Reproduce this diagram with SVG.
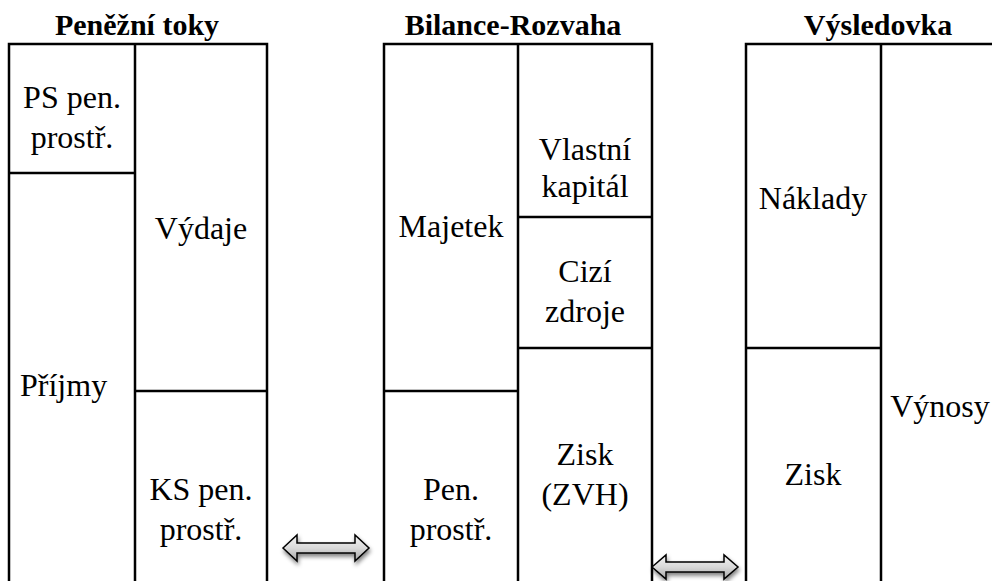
<svg xmlns="http://www.w3.org/2000/svg" width="992" height="581" viewBox="0 0 992 581" font-family="Liberation Serif, Times New Roman, serif">
  <defs>
    <linearGradient id="arrowFill" x1="0" y1="0" x2="0" y2="1">
      <stop offset="0" stop-color="#f4f4f4"/>
      <stop offset="0.5" stop-color="#d9d9d9"/>
      <stop offset="1" stop-color="#a6a6a6"/>
    </linearGradient>
    <filter id="shadow" x="-20%" y="-40%" width="140%" height="200%">
      <feGaussianBlur in="SourceAlpha" stdDeviation="2"/>
      <feOffset dx="1" dy="2.5" result="blur"/>
      <feComponentTransfer><feFuncA type="linear" slope="0.5"/></feComponentTransfer>
      <feMerge><feMergeNode/><feMergeNode in="SourceGraphic"/></feMerge>
    </filter>
  </defs>
  <style>
    .frame { fill: none; stroke: #000; stroke-width: 2.5; }
    .title { font-weight: bold; font-size: 30px; text-anchor: middle; fill: #000; }
    .lbl { font-size: 32px; text-anchor: middle; fill: #000; }
    .lbl.left { text-anchor: start; }
    .arrow { fill: url(#arrowFill); stroke: #000; stroke-width: 1.5; stroke-linejoin: miter; filter: url(#shadow); }
  </style>

  <!-- Cash flow statement -->
  <g id="penezni-toky" font-family="Liberation Serif, serif">
    <text class="title" x="137" y="35">Peněžní toky</text>
    <path class="frame" d="M9,581 V44 H267 V581 M135,44 V581 M9,173 H135 M135,391 H267"/>
    <text class="lbl" x="72" y="108">PS pen.</text>
    <text class="lbl" x="72" y="148">prostř.</text>
    <text class="lbl" x="201" y="239">Výdaje</text>
    <text class="lbl left" x="20" y="396">Příjmy</text>
    <text class="lbl" x="201" y="500">KS pen.</text>
    <text class="lbl" x="201" y="540">prostř.</text>
  </g>

  <!-- Balance sheet -->
  <g id="rozvaha" font-family="Liberation Serif, serif">
    <text class="title" x="513" y="35">Bilance-Rozvaha</text>
    <path class="frame" d="M384,581 V44 H652 V581 M518,44 V581 M518,217 H652 M518,348 H652 M384,391 H518"/>
    <text class="lbl" x="585" y="160">Vlastní</text>
    <text class="lbl" x="585" y="197">kapitál</text>
    <text class="lbl" x="451" y="237">Majetek</text>
    <text class="lbl" x="585" y="282">Cizí</text>
    <text class="lbl" x="585" y="322">zdroje</text>
    <text class="lbl" x="585" y="465">Zisk</text>
    <text class="lbl" x="585" y="505">(ZVH)</text>
    <text class="lbl" x="451" y="500">Pen.</text>
    <text class="lbl" x="451" y="540">prostř.</text>
  </g>

  <!-- Income statement -->
  <g id="vysledovka" font-family="Liberation Serif, serif">
    <text class="title" x="878" y="35">Výsledovka</text>
    <path class="frame" d="M746,581 V44 H992 M881,44 V581 M746,348 H881"/>
    <text class="lbl" x="813" y="209">Náklady</text>
    <text class="lbl" x="813" y="485">Zisk</text>
    <text class="lbl" x="940" y="417">Výnosy</text>
  </g>

  <!-- Double-headed block arrows between statements -->
  <g id="connectors">
    <path class="arrow" d="M283,548 L297,535 V543 H355 V535 L369,548 L355,561 V553 H297 V561 Z"/>
    <path class="arrow" d="M652,567 L666,555 V562 H724 V555 L738,567 L724,579 V572 H666 V579 Z"/>
  </g>
</svg>
